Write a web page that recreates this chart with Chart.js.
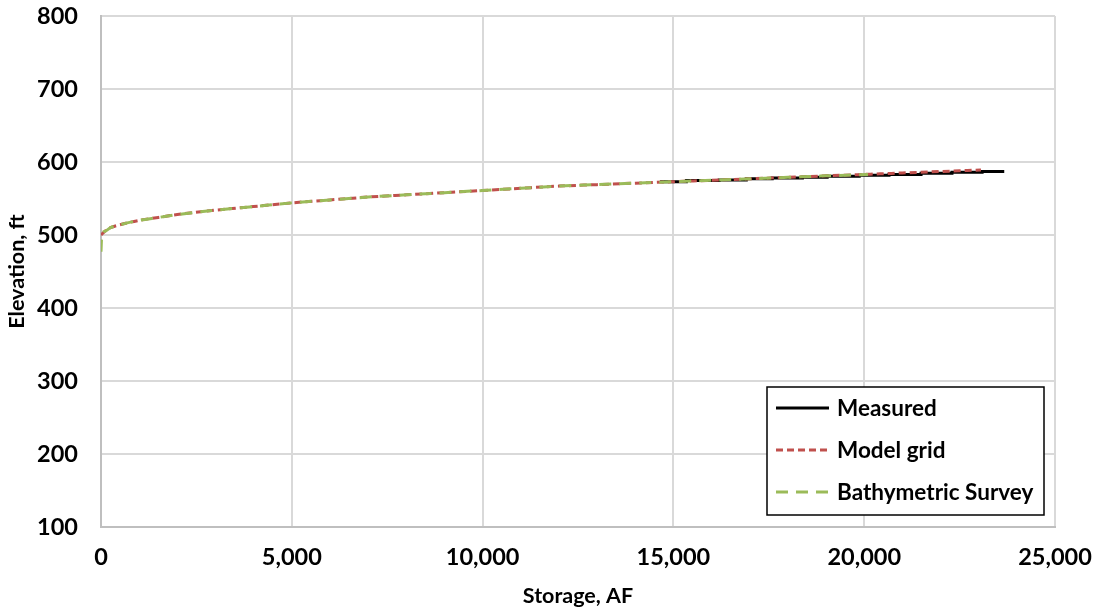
<!DOCTYPE html>
<html>
<head>
<meta charset="utf-8">
<script src="https://cdn.jsdelivr.net/npm/chart.js@4/dist/chart.umd.min.js"></script>
<style>
    html, body { margin: 0; padding: 0; background: #fff; }
    #wrap { width: 1093px; height: 609px; }
</style>
</head>
<body>
<div id="wrap"><canvas id="curvaChart" width="1093" height="609"></canvas></div>
<script>
// Curva elevación-almacenamiento: medido, grilla del modelo y levantamiento batimétrico
const measuredStorage = [14690, 15340, 16200, 16910, 17590, 18380, 19030, 19870, 20650, 21490, 22300, 23090, 23670];
const measuredElev    = [572, 573, 574.5, 575.5, 577, 578, 579, 580.5, 582, 583, 584.5, 586, 587];

const modelStorage = [0, 100, 250, 500, 1000, 1500, 2000, 3000, 4000, 5000, 6000, 7000, 8000, 9000, 10000,
    11000, 12000, 13000, 14000, 15000, 16000, 17000, 18000, 19000, 20000, 21000, 22000, 23060];
const modelElev = [500, 505, 510, 514, 520, 524, 528, 534, 539, 544, 548, 552, 555, 558, 561,
    564, 567, 569, 571, 573, 575, 577, 579, 581, 583, 585, 587, 589];

const surveyStorage = [0, 20, 100, 250, 500, 1000, 1500, 2000, 3000, 4000, 5000, 6000, 7000, 8000, 9000,
    10000, 11000, 12000, 13000, 14000, 15000, 16000, 17000, 18000, 19000, 20100];
const surveyElev = [477, 500, 505, 510, 514, 520, 524, 528, 534, 539, 544, 548, 552, 555, 558,
    561, 564, 567, 569, 571, 573, 575, 577, 579, 581, 583];

const seriesLabels = ['Measured', 'Model grid', 'Bathymetric Survey'];

const xMin = 0, xMax = 25000, xStep = 5000;
const yMin = 100, yMax = 800, yStep = 100;

const toPoints = (xs, ys) => xs.map((x, i) => ({ x: x, y: ys[i] }));

const FONT = 'Lato, "Open Sans", sans-serif';

// Leyenda dentro del área del gráfico, con marco negro
const boxLegend = {
    id: 'boxLegend',
    afterDatasetsDraw(chart) {
        const ctx = chart.ctx;
        const left = 767, top = 387, width = 277, height = 128;
        ctx.save();
        ctx.fillStyle = '#fff';
        ctx.fillRect(left, top, width, height);
        ctx.strokeStyle = '#000';
        ctx.lineWidth = 1.5;
        ctx.strokeRect(left, top, width, height);
        ctx.font = 'bold 22.5px ' + FONT;
        ctx.textBaseline = 'middle';
        ctx.fillStyle = '#000';
        chart.data.datasets.forEach((ds, i) => {
            const y = top + 21 + i * 42;
            ctx.beginPath();
            ctx.strokeStyle = ds.borderColor;
            ctx.lineWidth = ds.borderWidth;
            ctx.setLineDash(ds.borderDash || []);
            ctx.moveTo(left + 9, y);
            ctx.lineTo(left + 62, y);
            ctx.stroke();
            ctx.setLineDash([]);
            ctx.fillText(ds.label, left + 70, y + 1);
        });
        ctx.restore();
    }
};

document.addEventListener("DOMContentLoaded", () => {
    new Chart(document.getElementById("curvaChart"), {
        type: 'scatter',
        data: {
            datasets: [{
                label: seriesLabels[0],
                data: toPoints(measuredStorage, measuredElev),
                borderColor: '#000000',
                borderWidth: 3,
                stepped: 'after',
                order: 3
            }, {
                label: seriesLabels[1],
                data: toPoints(modelStorage, modelElev),
                borderColor: '#c0504d',
                borderWidth: 3,
                borderDash: [7, 4],
                cubicInterpolationMode: 'monotone',
                order: 2
            }, {
                label: seriesLabels[2],
                data: toPoints(surveyStorage, surveyElev),
                borderColor: '#9bbb59',
                borderWidth: 3,
                borderDash: [12, 8],
                cubicInterpolationMode: 'monotone',
                order: 1
            }].map(ds => Object.assign(ds, {
                showLine: true,
                pointRadius: 0,
                pointHoverRadius: 0,
                fill: false,
                borderCapStyle: 'butt'
            }))
        },
        options: {
            responsive: false,
            animation: false,
            layout: { padding: { top: 16, right: 38, left: 0, bottom: 0 } },
            plugins: {
                legend: { display: false },
                tooltip: { enabled: false }
            },
            scales: {
                x: {
                    type: 'linear',
                    min: xMin,
                    max: xMax,
                    afterFit: s => { s.height = 82; s.paddingLeft = 0; s.paddingRight = 0; },
                    ticks: {
                        stepSize: xStep,
                        maxRotation: 0,
                        autoSkip: false,
                        padding: 16,
                        color: '#000',
                        font: { family: FONT, size: 23.5, weight: 'bold' },
                        callback: v => v.toLocaleString('en-US')
                    },
                    grid: { color: '#d9d9d9', lineWidth: 2, drawTicks: false },
                    border: { color: '#bfbfbf', width: 2 },
                    title: {
                        display: true,
                        text: 'Storage, AF',
                        color: '#000',
                        font: { family: FONT, size: 21.5, weight: 'bold' },
                        padding: { top: 0, bottom: 0 }
                    }
                },
                y: {
                    min: yMin,
                    max: yMax,
                    afterFit: s => { s.width = 101; s.paddingTop = 0; s.paddingBottom = 0; },
                    ticks: {
                        stepSize: yStep,
                        padding: 23,
                        color: '#000',
                        font: { family: FONT, size: 23.5, weight: 'bold' }
                    },
                    grid: { color: '#d9d9d9', lineWidth: 2, drawTicks: false },
                    border: { color: '#bfbfbf', width: 2 },
                    title: {
                        display: true,
                        text: 'Elevation, ft',
                        color: '#000',
                        font: { family: FONT, size: 21.5, weight: 'bold' },
                        padding: { top: 4, bottom: 0 }
                    }
                }
            }
        },
        plugins: [boxLegend]
    });
});
</script>
</body>
</html>
